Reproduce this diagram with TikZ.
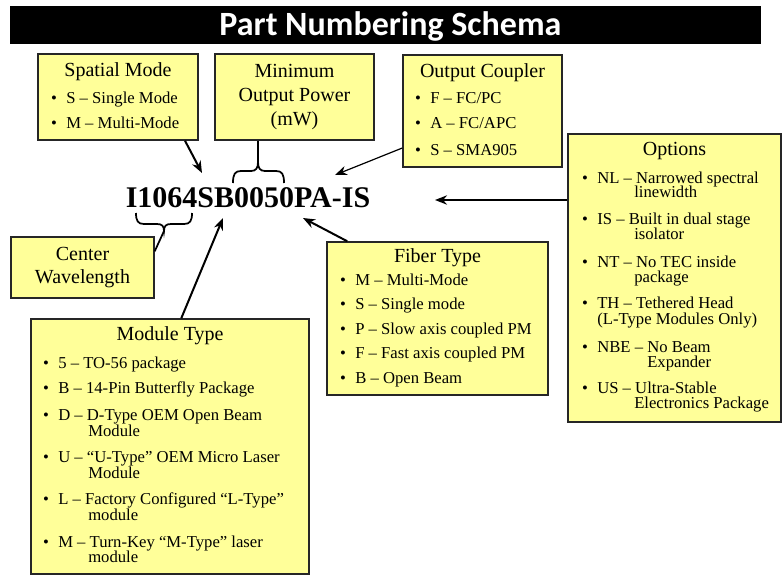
\documentclass[tikz,border=0pt]{standalone}
\usepackage{fontspec}
\setmainfont{Liberation Serif}
\newfontfamily\headfont{Carlito}
\usetikzlibrary{calc, positioning, arrows.meta}

\definecolor{boxyellow}{RGB}{255,255,153}
\newcommand{\bul}{\llap{\textbullet\hspace{7pt}}}

\tikzset{
    infobox/.style={draw=black!85, fill=boxyellow, line width=1.1pt, inner sep=0pt},
    boxsize/.style 2 args={minimum width=#1*0.75pt, minimum height=#2*0.75pt},
    boxtitle/.style={anchor=base, inner sep=0pt, font=\fontsize{15}{18}\selectfont},
    itemline/.style={anchor=base west, inner sep=0pt, font=\fontsize{12.5}{12}\selectfont},
    pointer/.style={line width=1.5pt, -{Stealth[length=9pt, width=7pt]}},
    bracket/.style={line width=1.3pt},
}

\begin{document}
\begin{tikzpicture}[x=0.75pt, y=-0.75pt]

    \useasboundingbox (0,0) rectangle (784,575);

    % title bar
    \node[fill=black, boxsize={751}{38}, inner sep=0pt] (bar) at (385.5,25) {};
    \node[anchor=base, inner sep=0pt, text=white, font=\headfont\bfseries\fontsize{25.5}{30}\selectfont] (title) at (390.5,35) {Part Numbering Schema};

    % boxes
    \node[infobox, boxsize={160}{86}] (spatial) at (118,97) {};
    \node[infobox, boxsize={159}{86}, align=center, font=\fontsize{15}{18}\selectfont] (minpow) at (294.5,97) {Minimum\\Output Power\\(mW)};
    \node[infobox, boxsize={159}{112}] (coupler) at (482.5,111) {};
    \node[infobox, boxsize={213}{288}] (options) at (674.5,278) {};
    \node[infobox, boxsize={143}{61}, align=center, font=\fontsize{15}{17.25}\selectfont] (cwave) at (82.5,267.5) {Center\\Wavelength};
    \node[infobox, boxsize={221}{153}] (fiber) at (437.5,318.5) {};
    \node[infobox, boxsize={278}{255}] (module) at (170,446.5) {};

    % part number
    \node[anchor=base, inner sep=0pt, font=\bfseries\fontsize{22.5}{27}\selectfont] (pn) at (248,207) {I1064SB0050PA-IS};

    %spatial mode
    \node[boxtitle] (smhead) at (118,76) {Spatial Mode};
    \foreach \y/\txt [count=\i] in {103/{S -- Single Mode}, 128/{M -- Multi-Mode}}
        \node[itemline] (smitem\i) at (66,\y) {\bul\txt};

    %output coupler
    \node[boxtitle] (ochead) at (482.5,77) {Output Coupler};
    \foreach \y/\txt [count=\i] in {103/{F -- FC/PC}, 128/{A -- FC/APC}, 155/{S -- SMA905}}
        \node[itemline] (ocitem\i) at (430,\y) {\bul\txt};

    %options
    \node[boxtitle] (ophead) at (674.5,155) {Options};
    \foreach \y/\txt [count=\i] in {183/{NL -- Narrowed spectral}, 224/{IS -- Built in dual stage},
        267/{NT -- No TEC inside}, 308/{TH -- Tethered Head}, 352/{NBE -- No Beam}, 393/{US -- Ultra-Stable}}
        \node[itemline] (opitem\i) at (597,\y) {\bul\txt};
    \foreach \x/\y/\txt [count=\i] in {634/197/{linewidth}, 634/239/{isolator}, 634/282/{package},
        597/324/{(L-Type Modules Only)}, 647/367/{Expander}, 634/408/{Electronics Package}}
        \node[itemline] (opmore\i) at (\x,\y) {\txt};

    %fiber type
    \node[boxtitle] (fthead) at (437.5,262) {Fiber Type};
    \foreach \y/\txt [count=\i] in {285/{M -- Multi-Mode}, 309/{S -- Single mode}, 334/{P -- Slow axis coupled PM},
        358/{F -- Fast axis coupled PM}, 383/{B -- Open Beam}}
        \node[itemline] (ftitem\i) at (355,\y) {\bul\txt};

    %module type
    \node[boxtitle] (mthead) at (170,340) {Module Type};
    \foreach \y/\txt [count=\i] in {368/{5 -- TO-56 package}, 393/{B -- 14-Pin Butterfly Package},
        420/{D -- D-Type OEM Open Beam}, 462/{U -- ``U-Type'' OEM Micro Laser},
        504/{L -- Factory Configured ``L-Type''}, 547/{M -- Turn-Key ``M-Type'' laser}}
        \node[itemline] (mtitem\i) at (58,\y) {\bul\txt};
    \foreach \y/\txt [count=\i] in {436/{Module}, 478/{Module}, 520/{module}, 562/{module}}
        \node[itemline] (mtmore\i) at (88,\y) {\txt};

    % brace tips and arrow targets
    \coordinate (mptip) at (258,162);
    \coordinate (cwtip) at (164,231);
    \coordinate (smtip) at (202,173);
    \coordinate (octip) at (335,175);
    \coordinate (optip) at (435,200);
    \coordinate (fttip) at (303,218);
    \coordinate (mttip) at (223,218);

    %upper brace
    \draw[bracket] (233,183) .. controls (233,174) and (235,171) .. (241,171) -- (251,171)
        .. controls (256,171) and (258,168) .. (mptip) .. controls (258,168) and (260,171) .. (265,171)
        -- (276,171) .. controls (282,171) and (284,174) .. (284,183);
    \draw[bracket] (minpow.south -| mptip) -- (mptip);

    %lower brace
    \draw[bracket] (136,213) .. controls (136,221) and (138,224) .. (144,224) -- (157,224)
        .. controls (162,224) and (164,226) .. (cwtip) .. controls (164,226) and (166,224) .. (171,224)
        -- (184,224) .. controls (190,224) and (192,221) .. (192,213);
    \draw[bracket] (cwtip) -- ($(cwave.north east)+(0,15)$);

    % arrows
    \draw[pointer] ($(spatial.south)+(67,0)$) -- (smtip);
    \draw[pointer, line width=0.9pt] ($(coupler.west)+(0,37)$) -- (octip);
    \draw[pointer] (options.west |- optip) -- (optip);
    \draw[pointer] ($(fiber.north west)+(21,0)$) -- (fttip);
    \draw[pointer] ($(module.north west)+(151,0)$) -- (mttip);

\end{tikzpicture}
\end{document}
